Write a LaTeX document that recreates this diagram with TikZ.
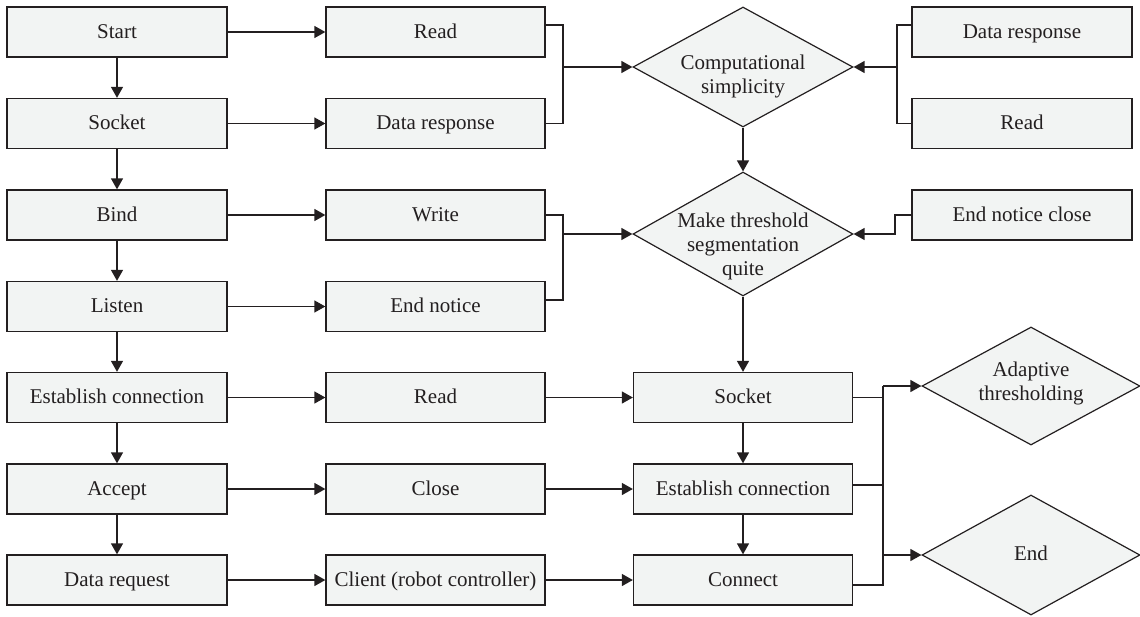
\documentclass[tikz,border=0pt]{standalone}
\usepackage{fontspec}
\setmainfont{Liberation Serif}
\usetikzlibrary{arrows.meta,shapes.geometric,calc}
\definecolor{boxfill}{RGB}{242,244,243}
\definecolor{ink}{RGB}{35,31,32}
\newcommand{\dlines}[2]{\makebox[0pt]{\raisebox{#1}[0pt][0pt]{\begin{tabular}{@{}c@{}}#2\end{tabular}}}}
\begin{document}
\begin{tikzpicture}[x=1pt,y=-1pt,
  every node/.style={font=\fontsize{21}{24}\selectfont, text=ink},
  box/.style={draw=ink, fill=boxfill, line width=1.3pt, rectangle, minimum width=219pt, minimum height=50pt, inner sep=0pt, text height=15pt, text depth=3pt},
  dia/.style={draw=ink, fill=boxfill, line width=1.2pt, diamond, inner sep=0pt},
  line/.style={draw=ink, line width=1.3pt},
  arr/.style={line, -{Triangle[length=11pt,width=12pt]}}]
\useasboundingbox (0,0) rectangle (1140,616);

% left column
\node[box, minimum width=220pt] (L1) at (117,32) {Start};
\node[box, minimum width=220pt] (L2) at (117,123.5) {Socket};
\node[box, minimum width=220pt] (L3) at (117,215) {Bind};
\node[box, minimum width=220pt] (L4) at (117,306.5) {Listen};
\node[box, minimum width=220pt] (L5) at (117,397.5) {Establish connection};
\node[box, minimum width=220pt] (L6) at (117,489) {Accept};
\node[box, minimum width=220pt] (L7) at (117,580) {Data request};

% middle column
\node[box] (M1) at (435.5,32) {Read};
\node[box] (M2) at (435.5,123.5) {Data response};
\node[box] (M3) at (435.5,215) {Write};
\node[box] (M4) at (435.5,306.5) {End notice};
\node[box] (M5) at (435.5,397.5) {Read};
\node[box] (M6) at (435.5,489) {Close};
\node[box] (M7) at (435.5,580) {Client (robot controller)};

% right boxes
\node[box, minimum width=220pt] (R1) at (1022,32) {Data response};
\node[box, minimum width=220pt] (R2) at (1022,123.5) {Read};
\node[box, minimum width=220pt] (R3) at (1022,215) {End notice close};

% lower right column
\node[box] (S5) at (743,397.5) {Socket};
\node[box] (S6) at (743,489) {Establish connection};
\node[box] (S7) at (743,580) {Connect};

% diamonds
\node[dia, minimum width=220pt, minimum height=120pt] (D1) at (743,67) {\dlines{-15pt}{Computational\\simplicity}};
\node[dia, minimum width=220pt, minimum height=124pt] (D2) at (743,234) {\dlines{-18pt}{Make threshold\\segmentation\\quite}};
\node[dia, minimum width=218pt, minimum height=118pt] (D3) at (1031,386) {\dlines{-3pt}{Adaptive\\thresholding}};
\node[dia, minimum width=218pt, minimum height=120pt] (D4) at (1031,555) {\dlines{-6pt}{End}};

% left column vertical arrows
\draw[arr] (L1) -- (L2);
\draw[arr] (L2) -- (L3);
\draw[arr] (L3) -- (L4);
\draw[arr] (L4) -- (L5);
\draw[arr] (L5) -- (L6);
\draw[arr] (L6) -- (L7);

% left to middle
\draw[arr] (L1) -- (M1);
\draw[arr] (L2) -- (M2);
\draw[arr] (L3) -- (M3);
\draw[arr] (L4) -- (M4);
\draw[arr] (L5) -- (M5);
\draw[arr] (L6) -- (M6);
\draw[arr] (L7) -- (M7);

% top brackets
\coordinate (j1) at (563,67);
\draw[line] ([yshift=7pt]M1.east) -| (j1) |- (M2.east);
\draw[arr] (j1) -- (D1.west);
\coordinate (j2) at (897,67);
\draw[line] ([yshift=7pt]R1.west) -| (j2) |- (R2.west);
\draw[arr] (j2) -- (D1.east);
\draw[arr] (D1.south) -- (D2.north);

% second bracket
\coordinate (j3) at (563,234);
\draw[line] (M3.east) -| (j3) |- ([yshift=6.5pt]M4.east);
\draw[arr] (j3) -- (D2.west);
\coordinate (j4) at (895,234);
\draw[arr] (R3.west) -| (j4) -- (D2.east);
\draw[arr] (D2.south) -- (S5.north);

% lower
\draw[arr] (M5) -- (S5);
\draw[arr] (M6) -- (S6);
\draw[arr] (M7) -- (S7);
\draw[arr] (S5) -- (S6);
\draw[arr] (S6) -- (S7);

\coordinate (j5) at (883,386);
\coordinate (j6) at (883,555);
\draw[line] (S5.east) -| (j5);
\draw[line] (j5) |- ([yshift=-5pt]S7.east);
\draw[line] ([yshift=4pt]S6.east) -- ([yshift=4pt]S6.east -| j5);
\draw[arr] (j5) -- (D3.west);
\draw[arr] (j6) -- (D4.west);
\end{tikzpicture}
\end{document}
